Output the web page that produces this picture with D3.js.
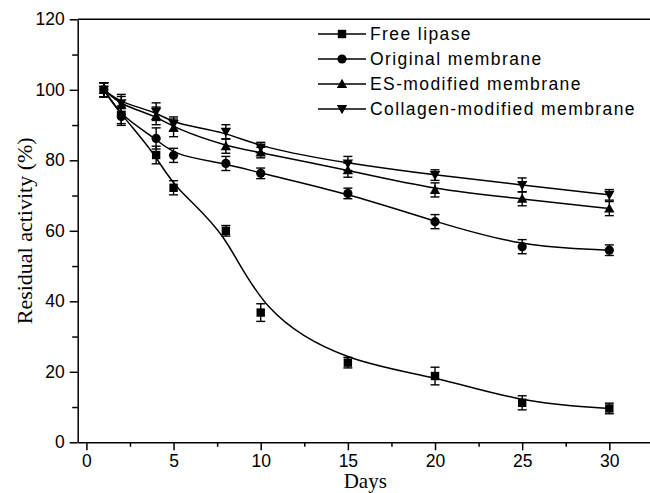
<!DOCTYPE html>
<html>
<head>
<meta charset="utf-8">
<script src="https://cdn.jsdelivr.net/npm/d3@7"></script>
<style>
  body { margin: 0; background: #fff; }
  svg { display: block; }
</style>
</head>
<body>
<svg id="chart"></svg>
<script>
var w = 650;
var h = 493;

// days of storage
const days = [1, 2, 4, 5, 8, 10, 15, 20, 25, 30];

// residual activity (%)
const freeLipase    = [100, 92.9, 81.5, 72.2, 60.0, 36.8, 22.6, 18.8, 11.2, 9.6];
const freeLipaseErr = [2, 2.5, 2.5, 2, 1.5, 2.5, 1.5, 2.5, 2, 1.5];
const original      = [100, 92.4, 86.2, 81.4, 79.1, 76.3, 70.6, 62.6, 55.5, 54.5];
const originalErr   = [2, 2.5, 3, 2, 2, 1.5, 1.5, 2, 2, 1.5];
const esModified    = [100, 95.6, 92.6, 89.2, 84.0, 82.2, 77.2, 71.6, 69.1, 66.3];
const esModifiedErr = [2, 2.5, 2.5, 2.5, 2, 1.5, 2, 2, 2, 2];
const collagen      = [100, 96.2, 93.8, 90.3, 88.1, 83.6, 79.1, 75.8, 73.0, 70.2];
const collagenErr   = [2, 2.5, 2.5, 2, 2, 1.5, 2, 1.5, 2, 1.5];

const seriesNames = ["Free lipase", "Original membrane", "ES-modified membrane", "Collagen-modified membrane"];
const seriesSymbols = ["square", "circle", "triangle", "triangleDown"];

const xTicks = [0, 5, 10, 15, 20, 25, 30];
const xMinor = [2.5, 7.5, 12.5, 17.5, 22.5, 27.5, 32.5];
const yTicks = [0, 20, 40, 60, 80, 100, 120];
const yMinor = [10, 30, 50, 70, 90, 110];

const seriesValues = [freeLipase, original, esModified, collagen];
const seriesErrors = [freeLipaseErr, originalErr, esModifiedErr, collagenErr];

var margin = { left: 77.7, top: 19.3, bottom: 50.7 };
var plotW = 575.2;
var plotH = h - margin.top - margin.bottom;

var svg = d3.select("#chart")
  .attr("width", w)
  .attr("height", h);

var x = d3.scaleLinear().domain([-0.5, 32.5]).range([margin.left, margin.left + plotW]);
var y = d3.scaleLinear().domain([0, 120]).range([margin.top + plotH, margin.top]);

var tickFont = "'Liberation Sans', Arial, sans-serif";
var titleFont = "'Liberation Serif', 'Times New Roman', serif";

// ---- axes
var xAxis = svg.append("g")
  .attr("transform", "translate(0," + y(0) + ")")
  .call(d3.axisBottom(x).tickValues(xTicks).tickSize(8).tickSizeOuter(0).tickPadding(4));
svg.append("g")
  .attr("transform", "translate(0," + y(0) + ")")
  .call(d3.axisBottom(x).tickValues(xMinor).tickSize(4.5).tickFormat(""))
  .select(".domain").remove();

var yAxis = svg.append("g")
  .attr("transform", "translate(" + x(-0.5) + ",0)")
  .call(d3.axisLeft(y).tickValues(yTicks).tickSize(8).tickSizeOuter(0).tickPadding(5));
svg.append("g")
  .attr("transform", "translate(" + x(-0.5) + ",0)")
  .call(d3.axisLeft(y).tickValues(yMinor).tickSize(5.5).tickFormat(""))
  .select(".domain").remove();

svg.selectAll(".domain, .tick line")
  .attr("stroke", "#000")
  .attr("stroke-width", 1.5);

svg.selectAll(".tick text")
  .attr("fill", "#000")
  .style("font-family", tickFont)
  .style("font-size", "17.5px");

// top frame line
svg.append("line")
  .attr("x1", x(-0.5)).attr("x2", x(32.5))
  .attr("y1", y(120)).attr("y2", y(120))
  .attr("stroke", "#000")
  .attr("stroke-width", 1.5);

// ---- titles
svg.append("text")
  .attr("transform", "translate(32," + y(60) + ") rotate(-90)")
  .attr("text-anchor", "middle")
  .style("font-family", titleFont)
  .style("font-size", "22px")
  .text("Residual activity (%)");

svg.append("text")
  .attr("x", x(16))
  .attr("y", 488)
  .attr("text-anchor", "middle")
  .style("font-family", titleFont)
  .style("font-size", "21px")
  .text("Days");

// ---- symbols
function drawSymbol(g, kind) {
  if (kind == "square") {
    g.append("rect").attr("x", -4.2).attr("y", -4.2).attr("width", 8.4).attr("height", 8.4);
  } else if (kind == "circle") {
    g.append("circle").attr("r", 4.6);
  } else if (kind == "triangle") {
    g.append("path").attr("d", "M0,-5.2L5.2,4L-5.2,4Z");
  } else {
    g.append("path").attr("d", "M0,5.2L5.2,-4L-5.2,-4Z");
  }
  g.attr("fill", "#000");
}

var line = d3.line()
  .x(d => x(d[0]))
  .y(d => y(d[1]))
  .curve(d3.curveBasis);

seriesValues.forEach(function (vals, si) {
  var pts = days.map((d, i) => [d, vals[i], seriesErrors[si][i]]);
  var g = svg.append("g").attr("class", "series");

  g.append("path")
    .datum(pts)
    .attr("d", line)
    .attr("fill", "none")
    .attr("stroke", "#000")
    .attr("stroke-width", 1.5);

  // error bars
  var eb = g.selectAll(".err")
    .data(pts)
    .enter().append("g")
    .attr("class", "err")
    .attr("stroke", "#000")
    .attr("stroke-width", 1.4);
  eb.append("line")
    .attr("x1", d => x(d[0])).attr("x2", d => x(d[0]))
    .attr("y1", d => y(d[1] - d[2])).attr("y2", d => y(d[1] + d[2]));
  eb.append("line")
    .attr("x1", d => x(d[0]) - 4.5).attr("x2", d => x(d[0]) + 4.5)
    .attr("y1", d => y(d[1] + d[2])).attr("y2", d => y(d[1] + d[2]));
  eb.append("line")
    .attr("x1", d => x(d[0]) - 4.5).attr("x2", d => x(d[0]) + 4.5)
    .attr("y1", d => y(d[1] - d[2])).attr("y2", d => y(d[1] - d[2]));

  g.selectAll(".mark")
    .data(pts)
    .enter().append("g")
    .attr("class", "mark")
    .attr("transform", d => "translate(" + x(d[0]) + "," + y(d[1]) + ")")
    .each(function () { drawSymbol(d3.select(this), seriesSymbols[si]); });
});

// ---- legend
var legend = svg.selectAll(".legend")
  .data(seriesNames)
  .enter().append("g")
  .attr("class", "legend")
  .attr("transform", (d, i) => "translate(318," + (34 + i * 25) + ")");

legend.append("line")
  .attr("x1", 0).attr("x2", 48)
  .attr("stroke", "#000")
  .attr("stroke-width", 1.5);

legend.append("g")
  .attr("transform", "translate(24,0)")
  .each(function (d, i) { drawSymbol(d3.select(this), seriesSymbols[i]); });

legend.append("text")
  .attr("x", 52)
  .attr("dy", "0.35em")
  .style("font-family", tickFont)
  .style("font-size", "17.5px")
  .style("letter-spacing", "1.4px")
  .text(d => d);
</script>
</body>
</html>
